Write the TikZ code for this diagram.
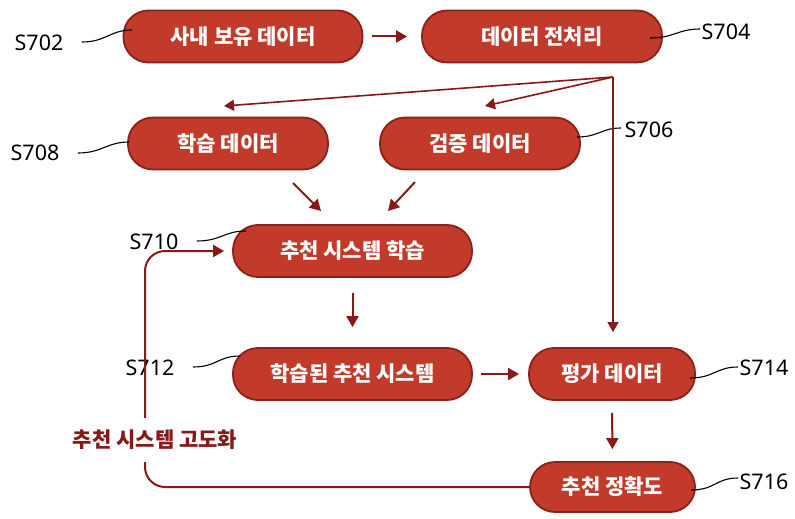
\documentclass[tikz,border=0pt]{standalone}
\usepackage{fontspec}
\setmainfont{Noto Sans}
\newfontfamily\kr{Noto Sans CJK KR}
\usetikzlibrary{arrows.meta,calc}
\definecolor{boxfill}{RGB}{194,58,42}
\definecolor{boxline}{RGB}{140,32,26}
\definecolor{arrowc}{RGB}{135,25,25}
\begin{document}
\begin{tikzpicture}[x=1pt,y=-1pt,
  box/.style={draw=boxline, line width=1.8pt, fill=boxfill, rounded corners=25pt,
    minimum height=52pt, text=white, font=\kr\bfseries\fontsize{21}{22}\selectfont, inner sep=0pt},
  arr/.style={draw=arrowc, line width=2pt, -{Triangle[width=12pt,length=11pt]}},
  thinarr/.style={draw=arrowc, line width=1.6pt, -{Triangle[width=11pt,length=10pt]}},
  lead/.style={draw=black, line width=1.1pt},
  steplbl/.style={font=\fontsize{21.5}{23}\selectfont, inner sep=0pt},
  looplbl/.style={font=\kr\bfseries\fontsize{21}{22}\selectfont, text=arrowc, fill=white, inner xsep=2pt, inner ysep=12pt}
]
\path[use as bounding box, fill=white] (0,0) rectangle (795,519);

% boxes
\node[box, minimum width=239pt] (s702) at (243,36.5) {사내 보유 데이터};
\node[box, minimum width=240pt] (s704) at (542,36.5) {데이터 전처리};
\node[box, minimum width=200pt] (s708) at (228,143.5) {학습 데이터};
\node[box, minimum width=200pt] (s706) at (480,143.5) {검증 데이터};
\node[box, minimum width=239pt] (s710) at (352.5,251) {추천 시스템 학습};
\node[box, minimum width=239pt] (s712) at (352.5,374) {학습된 추천 시스템};
\node[box, minimum width=166pt] (s714) at (612,374) {평가 데이터};
\node[box, minimum width=165pt, minimum height=50pt] (s716) at (612.5,487) {추천 정확도};

% step labels
\node[steplbl] (l702) at (39,43) {S702};
\node[steplbl] (l708) at (35,153) {S708};
\node[steplbl] (l704) at (726,32) {S704};
\node[steplbl] (l706) at (649,130) {S706};
\node[steplbl] (l710) at (154,242) {S710};
\node[steplbl] (l712) at (150,368) {S712};
\node[steplbl] (l714) at (764,368) {S714};
\node[steplbl] (l716) at (764,482) {S716};

% leader lines
\draw[lead] (82,42) .. controls +(24,0) and +(-22,0) .. (132,30);
\draw[lead] (78,153) .. controls +(24,0) and +(-22,0) .. (129,142);
\draw[lead] (650,38) .. controls +(24,0) and +(-22,0) .. (700,29);
\draw[lead] (577,137) .. controls +(22,0) and +(-20,0) .. (621,128);
\draw[lead] (197,241) .. controls +(24,0) and +(-22,0) .. (246,231);
\draw[lead] (193,367) .. controls +(24,0) and +(-22,0) .. (240,356);
\draw[lead] (690,378) .. controls +(24,0) and +(-22,0) .. (738,367);
\draw[lead] (691,490) .. controls +(24,0) and +(-22,0) .. (738,478);

% arrows
\coordinate (j) at (613,77);
\coordinate (t708) at (224,106);
\coordinate (t706) at (485,106);
\coordinate (a708s) at (293,183);
\coordinate (a708e) at (321,211);
\coordinate (a706s) at (415,182);
\coordinate (a706e) at (388,211);
\coordinate (loopx) at (145,0);

\draw[arr, shorten <=9pt, shorten >=14pt] (s702.east) -- (s704.west);
\draw[thinarr] (j) -- (t708);
\draw[thinarr] (j) -- (t706);
\draw[thinarr, shorten >=15pt] (j) -- (j |- s714.north);
\draw[arr] (a708s) -- (a708e);
\draw[arr] (a706s) -- (a706e);
\draw[arr, shorten <=15pt, shorten >=20pt] (s710.south) -- (s712.north);
\draw[arr, shorten <=8pt, shorten >=9pt] (s712.east) -- (s714.west);
\draw[arr, shorten <=12pt, shorten >=12pt] (s714.south) -- (s716.north);
\draw[arr, rounded corners=20pt, shorten >=8pt] (s716.west) -- (s716.west -| loopx) -- (s710.west -| loopx) -- (s710.west);
\node[looplbl] (loop) at (155,440) {추천 시스템 고도화};
\end{tikzpicture}
\end{document}
